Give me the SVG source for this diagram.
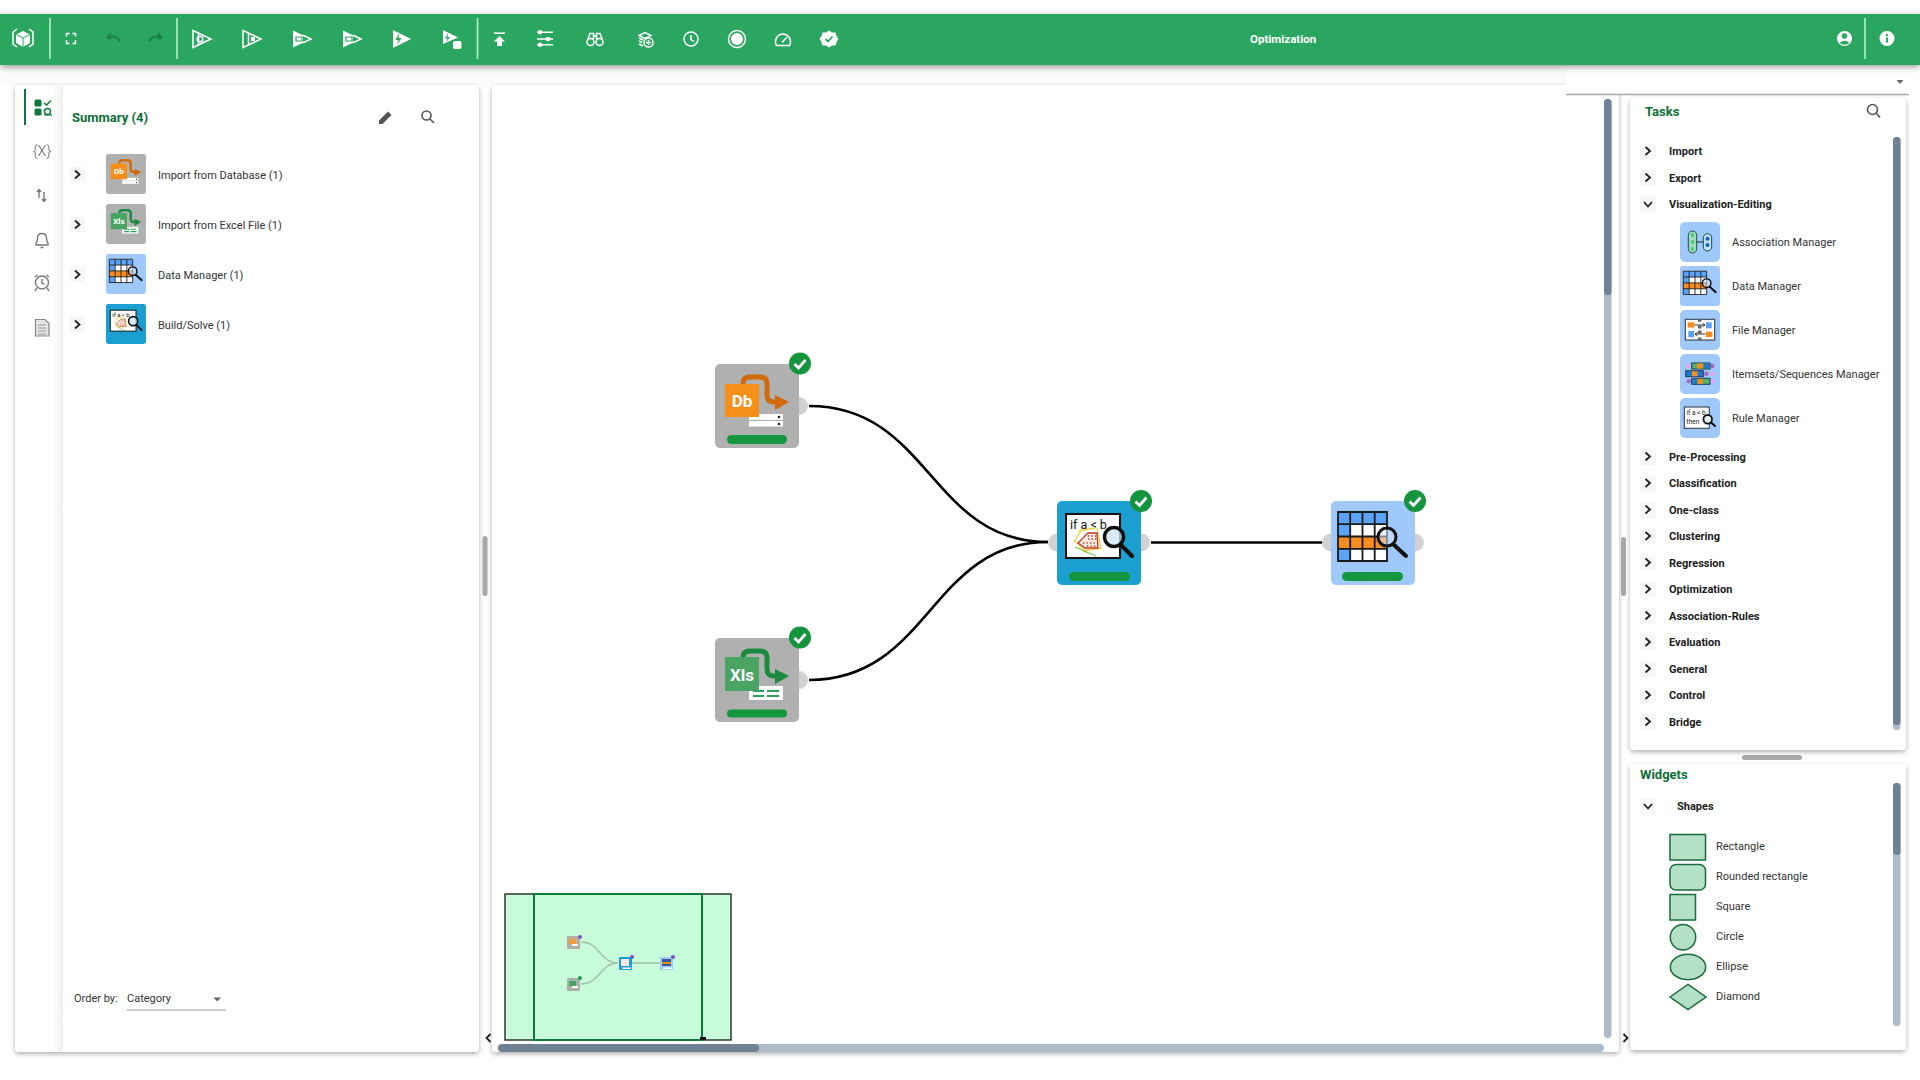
<svg xmlns="http://www.w3.org/2000/svg" xmlns:xlink="http://www.w3.org/1999/xlink" width="1920" height="1080" viewBox="0 0 1920 1080">
<style>
text{font-family:Roboto,"Liberation Sans",sans-serif}
.item{font-size:11px;fill:#333}
.head{font-size:11px;font-weight:700;fill:#1c1c1c}
.title{font-size:13px;font-weight:700;fill:#0b6e36}
.chev{fill:none;stroke:#222;stroke-width:1.8}
.chevbg{fill:#f7f7f7}
.tb{fill:none;stroke:#fff;stroke-width:1.5}
.tbf{fill:#fff}
.sep{stroke:#b6f0c9;stroke-width:1.6}
.port{fill:#d2d2d2}
.bar{fill:#15973f}
.ok{fill:#15943e}
.tick{fill:none;stroke:#fff;stroke-width:2.8}
.wire{fill:none;stroke:#000;stroke-width:2.6}
.mw{fill:none;stroke:#9fbfa6;stroke-width:1.3}
.thumb{fill:#6f8295}
.track{fill:#aebcc9}
.shape{fill:#b5e0c8;stroke:#1a6b3c;stroke-width:1.5}
.side{fill:none;stroke:#777;stroke-width:1.4}
.search{fill:none;stroke:#555;stroke-width:1.6}
.panel{fill:#fff;filter:url(#sh)}
</style>
<defs>
<filter id="sh" x="-5%" y="-5%" width="110%" height="110%"><feDropShadow dx="0" dy="2" stdDeviation="2.5" flood-color="#000" flood-opacity=".32"/></filter>
<filter id="shb" x="-2%" y="-20%" width="104%" height="160%"><feDropShadow dx="0" dy="2" stdDeviation="3" flood-color="#000" flood-opacity=".4"/></filter>
<linearGradient id="sg" x1="0" x2="1" y1="0" y2="0"><stop offset="0" stop-color="#fff"/><stop offset="1" stop-color="#eee"/></linearGradient>
<path id="cr" class="chev" d="M-2.5 -4L2 0L-2.500 4"/>
<path id="cd" class="chev" d="M-4 -2L0 2.500L4 -2"/>
<g id="check"><circle r="11" class="ok"/><path class="tick" d="M-5.500 0.500L-1.500 4.500L5.500 -3.500"/></g>
<g id="lens"><circle r="9.500" fill="#cfe7fb" fill-opacity=".75" stroke="#111" stroke-width="3.400"/></g>

<g id="icon-db">
<rect width="84" height="84" rx="5" fill="#b0b0b0"/>
<path d="M28 20V19Q28 13 35 13H45Q52 13 52 20V31Q52 38 59 38H64" fill="none" stroke="#d06a0a" stroke-width="5"/>
<path d="M60 31L74 38L60 46Z" fill="#d06a0a"/>
<rect x="34" y="50" width="34" height="6" fill="#fff"/><rect x="34" y="57" width="34" height="5.500" fill="#fff"/>
<circle cx="64" cy="53" r="1.300" fill="#222"/><circle cx="64" cy="60" r="1.300" fill="#222"/>
<rect x="10" y="20" width="34" height="33" fill="#f68f17"/>
<text x="27" y="43" font-size="17" font-weight="700" fill="#fff" text-anchor="middle">Db</text>
</g>
<g id="icon-xls">
<rect width="84" height="84" rx="5" fill="#b0b0b0"/>
<path d="M28 20V19Q28 13 35 13H45Q52 13 52 20V31Q52 38 59 38H64" fill="none" stroke="#1b8a3f" stroke-width="5"/>
<path d="M60 31L74 38L60 46Z" fill="#1b8a3f"/>
<rect x="34" y="48" width="34" height="14" fill="#fff"/>
<path d="M38 53H49M52 53H64M38 58H49M52 58H64" stroke="#2f9e5a" stroke-width="2.200"/>
<rect x="10" y="19" width="34" height="34" fill="#4aa564"/>
<text x="27" y="43" font-size="17" font-weight="700" fill="#fff" text-anchor="middle">Xls</text>
</g>
<g id="icon-rule">
<rect width="84" height="84" rx="5" fill="#1a9fd0"/>
<rect x="9" y="13" width="54" height="44" fill="#fff" stroke="#111" stroke-width="2"/>
<text x="13" y="27.500" font-size="12.500" fill="#111">if a &lt; b</text>
<path d="M17 41L25 28M22 30L38 27M40 27L44 48M18 40L30 52M26 50L44 47" stroke="#f3d33b" stroke-width="1.300" fill="none"/>
<path d="M21 42L31 32H40L41 47H28Z" fill="#fbeadf" stroke="#c0392b" stroke-width="1.300"/>
<path d="M26 42h13M31 38h9M31 35h9M30 45h10" stroke="#b5342a" stroke-width="1.300" stroke-dasharray="1.300 2.200" fill="none"/>
<path d="M18 46L39 55" stroke="#6cc24a" stroke-width="1.200"/>
<path d="M63 43L75 55" stroke="#111" stroke-width="4" stroke-linecap="round"/>
<use xlink:href="#lens" href="#lens" x="57" y="36"/>
</g>
<g id="icon-grid">
<rect width="84" height="84" rx="5" fill="#9fc9fb"/>
<rect x="7" y="11" width="49" height="49" fill="#fff"/>
<path d="M7 11H56V23H19V60H7Z" fill="#5ba3f5"/>
<rect x="7" y="35.500" width="49" height="12.300" fill="#f68b1f"/>
<path d="M7 11H56V60H7ZM19.200 11V60M31.500 11V60M43.700 11V60M7 23.200H56M7 35.500H56M7 47.800H56" fill="none" stroke="#1a1a1a" stroke-width="1.800"/>
<path d="M62 43L75 55" stroke="#111" stroke-width="4" stroke-linecap="round"/>
<circle cx="56" cy="36" r="9" fill="#d6e8fb" fill-opacity=".55" stroke="#111" stroke-width="3"/>
</g>
</defs>

<rect width="1920" height="1080" fill="#fff"/>
<rect x="0" y="66" width="1566" height="19" fill="#fbfbfb"/>

<!-- left panel -->
<g id="summary-panel">
<rect class="panel" x="15" y="85" width="464" height="967" rx="4"/>
<rect x="52" y="86" width="11" height="965" fill="url(#sg)"/>
<rect x="24" y="89" width="2" height="36" fill="#0b7a3a"/>
<g id="side-icons">
<rect x="34.500" y="99.500" width="7" height="7" rx="1.500" fill="#0b7a3a"/><rect x="34.500" y="108.500" width="7" height="7" rx="1.500" fill="#0b7a3a"/>
<path d="M44 103L46.500 105L51 100.500" fill="none" stroke="#0b7a3a" stroke-width="1.500"/>
<circle cx="47.500" cy="111.500" r="3" fill="none" stroke="#0b7a3a" stroke-width="1.500"/><path d="M44 115H52" stroke="#0b7a3a" stroke-width="1.200"/>
<text x="42" y="156" font-size="14.500" font-weight="300" fill="#666" text-anchor="middle">{X}</text>
<path class="side" d="M39 198V190M37 192L39 189.500L41 192M44 192V201M42 199L44 201.500L46 199"/>
<path class="side" d="M36 245V243Q37.500 241 37.500 238Q37.500 233.500 42 233.500Q46.500 233.500 46.500 238Q46.500 241 48 243V245ZM40.500 247.500H43.500"/>
<circle class="side" cx="42" cy="282.500" r="6.500"/><path class="side" d="M42 279V283L44.500 284.500M35 277L37.500 275M49 277L46.500 275M37 288L35 291M47 288L49 291"/>
<path d="M35.500 319.500H45L49 323.500V336H35.500Z" fill="#e6e6e6" stroke="#888" stroke-width="1.200"/><path d="M38 325H46M38 328H46M38 331H46M38 334H46" stroke="#999" stroke-width="1"/>
</g>
<text class="title" x="72" y="122">Summary (4)</text>
<path d="M379 124V120.500L388 111.500L391.500 115L382.500 124Z" fill="#555"/>
<circle class="search" cx="426.500" cy="115.500" r="4.500"/><path class="search" d="M430 119L434 123"/>
<g id="summary-rows">
<rect class="chevbg" x="70" y="167" width="15" height="15"/><use href="#cr" x="77.500" y="174.500"/>
<rect class="chevbg" x="70" y="217" width="15" height="15"/><use href="#cr" x="77.500" y="224.500"/>
<rect class="chevbg" x="70" y="267" width="15" height="15"/><use href="#cr" x="77.500" y="274.500"/>
<rect class="chevbg" x="70" y="317" width="15" height="15"/><use href="#cr" x="77.500" y="324.500"/>
<use href="#icon-db" transform="translate(106 154) scale(.476)"/>
<use href="#icon-xls" transform="translate(106 204) scale(.476)"/>
<use href="#icon-grid" transform="translate(106 254) scale(.476)"/>
<use href="#icon-rule" transform="translate(106 304) scale(.476)"/>
<text class="item" x="158" y="179">Import from Database (1)</text>
<text class="item" x="158" y="229">Import from Excel File (1)</text>
<text class="item" x="158" y="279">Data Manager (1)</text>
<text class="item" x="158" y="329">Build/Solve (1)</text>
</g>
<text class="item" x="74" y="1002">Order by:</text>
<text class="item" x="127" y="1002">Category</text>
<path d="M213.500 997.500H221L217.200 1001.500Z" fill="#666"/>
<path d="M127 1010H226" stroke="#999" stroke-width="1"/>
</g>

<!-- canvas -->
<g id="canvas-panel">
<rect class="panel" x="492" y="85" width="1127" height="967" rx="4"/>
<rect x="1604" y="99" width="7.500" height="939" rx="3.500" class="track"/>
<rect x="1604" y="99" width="7.500" height="196" rx="3.500" class="thumb"/>
<rect x="498" y="1044" width="1106" height="8" rx="4" class="track"/>
<rect x="498" y="1044" width="261" height="8" rx="4" class="thumb"/>
<rect x="482.500" y="536" width="5" height="60" rx="2.500" fill="#a8a8a8"/>
<rect x="1621" y="537" width="5" height="59" rx="2.500" fill="#a8a8a8"/>
<path class="chev" d="M490.500 1034L486.500 1038L490.500 1042"/>
<path class="chev" d="M1623.500 1034L1627.500 1038L1623.500 1042"/>
</g>

<!-- connectors -->
<g id="connectors">
<path class="wire" d="M809 406C930 406 930 542 1048 542"/>
<path class="wire" d="M809 680C930 680 930 542 1048 542"/>
<path class="wire" d="M1151 542.500H1322"/>
</g>

<!-- nodes -->
<g id="node-import-db">
<circle class="port" cx="799" cy="406" r="9"/>
<use href="#icon-db" x="715" y="364"/>
<rect class="bar" x="727" y="435" width="60" height="9" rx="4.500"/>
<use href="#check" x="800" y="363.500"/>
</g>
<g id="node-import-excel">
<circle class="port" cx="799" cy="680" r="9"/>
<use href="#icon-xls" x="715" y="638"/>
<rect class="bar" x="727" y="709.500" width="60" height="8" rx="4"/>
<use href="#check" x="800" y="637.500"/>
</g>
<g id="node-build-solve">
<circle class="port" cx="1057" cy="542.500" r="9"/><circle class="port" cx="1141" cy="542.500" r="9"/>
<use href="#icon-rule" x="1057" y="501"/>
<rect class="bar" x="1069" y="572" width="61" height="9" rx="4.500"/>
<use href="#check" x="1141" y="501"/>
</g>
<g id="node-data-manager">
<circle class="port" cx="1331" cy="542.500" r="9"/><circle class="port" cx="1415" cy="542.500" r="9"/>
<use href="#icon-grid" x="1331" y="501"/>
<rect class="bar" x="1342" y="572" width="61" height="9" rx="4.500"/>
<use href="#check" x="1415" y="501"/>
</g>

<!-- minimap -->
<g id="minimap">
<rect x="505" y="894" width="226" height="146" fill="#c8fbd9" stroke="#2a3a30" stroke-width="1.500"/>
<rect x="534" y="894" width="168" height="146" fill="none" stroke="#0b7a3a" stroke-width="2"/>
<rect x="700" y="1037" width="6" height="3" fill="#111"/>
<path class="mw" d="M581 942C600 942 600 963 618 963M581 984C600 984 600 963 618 963M632 963H660"/>
<rect x="567" y="936" width="13" height="13" rx="1" fill="#b5aca2"/><rect x="569" y="939" width="7" height="5" fill="#f09a3c"/><rect x="572" y="944" width="6" height="2" fill="#fff"/>
<circle cx="580" cy="937" r="2" fill="#7a55b8"/>
<rect x="567" y="978" width="13" height="13" rx="1" fill="#a8b3a8"/><rect x="569" y="981" width="7" height="5" fill="#4aa564"/><rect x="572" y="986" width="6" height="2" fill="#fff"/>
<circle cx="580" cy="978" r="2" fill="#1f9b4a"/>
<rect x="619" y="957" width="13" height="13" rx="1" fill="#1a9fd0"/><rect x="621" y="959" width="8" height="7" fill="#fbe4dc"/><rect x="622" y="967.500" width="9" height="1.500" fill="#fff"/>
<circle cx="632" cy="957" r="2" fill="#7a55b8"/>
<rect x="660" y="957" width="13" height="13" rx="1" fill="#9fc9fb"/><rect x="662" y="959" width="9" height="7" fill="#3a5a8a"/><rect x="662" y="962" width="9" height="2" fill="#e08a28"/><rect x="663" y="967.500" width="9" height="1.500" fill="#fff"/>
<circle cx="673" cy="957" r="2" fill="#7a55b8"/>
</g>

<!-- top right strip -->
<g id="canvas-selector">
<rect x="1566" y="70" width="343" height="24" fill="#fff"/>
<path d="M1566 94.500H1909" stroke="#aaa" stroke-width="1.500"/>
<path d="M1896.500 80H1903.500L1900 84Z" fill="#666"/>
</g>

<!-- tasks panel -->
<g id="tasks-panel">
<rect class="panel" x="1630" y="98" width="276" height="652" rx="4"/>
<text class="title" x="1645" y="116">Tasks</text>
<circle class="search" cx="1872.500" cy="109.500" r="5"/><path class="search" d="M1876 113L1880 117.500"/>
<rect x="1893" y="137" width="7.500" height="593" rx="3.500" class="track"/>
<rect x="1893" y="137" width="7.500" height="588" rx="3.500" class="thumb"/>
<g fill="#f7f7f7">
<rect x="1640" y="143.500" width="16" height="16"/><rect x="1640" y="170" width="16" height="16"/><rect x="1640" y="196.500" width="16" height="16"/>
<rect x="1640" y="449" width="16" height="16"/><rect x="1640" y="475.500" width="16" height="16"/><rect x="1640" y="502" width="16" height="16"/><rect x="1640" y="528.500" width="16" height="16"/><rect x="1640" y="555" width="16" height="16"/><rect x="1640" y="581.500" width="16" height="16"/><rect x="1640" y="608" width="16" height="16"/><rect x="1640" y="634.500" width="16" height="16"/><rect x="1640" y="661" width="16" height="16"/><rect x="1640" y="687.500" width="16" height="16"/><rect x="1640" y="714" width="16" height="16"/>
</g>
<use href="#cr" x="1648" y="151"/><use href="#cr" x="1648" y="177.500"/><use href="#cd" x="1648" y="204"/>
<use href="#cr" x="1648" y="456.500"/><use href="#cr" x="1648" y="483"/><use href="#cr" x="1648" y="509.500"/><use href="#cr" x="1648" y="536"/><use href="#cr" x="1648" y="562.500"/><use href="#cr" x="1648" y="589"/><use href="#cr" x="1648" y="615.500"/><use href="#cr" x="1648" y="642"/><use href="#cr" x="1648" y="668.500"/><use href="#cr" x="1648" y="695"/><use href="#cr" x="1648" y="721.500"/>
<text class="head" x="1669" y="155">Import</text>
<text class="head" x="1669" y="182">Export</text>
<text class="head" x="1669" y="208">Visualization-Editing</text>
<text class="head" x="1669" y="461">Pre-Processing</text>
<text class="head" x="1669" y="487">Classification</text>
<text class="head" x="1669" y="514">One-class</text>
<text class="head" x="1669" y="540">Clustering</text>
<text class="head" x="1669" y="567">Regression</text>
<text class="head" x="1669" y="593">Optimization</text>
<text class="head" x="1669" y="620">Association-Rules</text>
<text class="head" x="1669" y="646">Evaluation</text>
<text class="head" x="1669" y="673">General</text>
<text class="head" x="1669" y="699">Control</text>
<text class="head" x="1669" y="726">Bridge</text>
<g transform="translate(1680 222)">
<rect width="40" height="40" rx="5" fill="#9fc9fb"/>
<rect x="8.300" y="9" width="8.400" height="22" rx="4.200" fill="#9fdcc0" stroke="#1d4c4a" stroke-width="1"/>
<rect x="23.300" y="11.700" width="8.400" height="17.300" rx="4.200" fill="#bfe0fb" stroke="#1d4c4a" stroke-width="1"/>
<path d="M16.700 20H23.300" stroke="#1d4c4a" stroke-width="1.200"/>
<circle cx="12.500" cy="13" r="1.900" fill="#4fc87a"/><circle cx="12.500" cy="20" r="1.900" fill="#4fc87a"/><circle cx="12.500" cy="27" r="1.900" fill="#4fc87a"/>
<circle cx="27.500" cy="16.700" r="2" fill="#1565c0"/><circle cx="27.500" cy="23" r="2" fill="#1565c0"/>
</g>
<use href="#icon-grid" transform="translate(1680 266) scale(.476)"/>
<g transform="translate(1680 310)">
<rect width="40" height="40" rx="5" fill="#9fc9fb"/>
<rect x="5.300" y="9.300" width="29.400" height="20.700" fill="#fff" stroke="#23323f" stroke-width="1"/>
<rect x="7.700" y="12.300" width="6.700" height="5.300" fill="#f68b1f"/><rect x="26" y="12.300" width="5.700" height="6" fill="#5ba3f5"/>
<rect x="8.300" y="21" width="5.700" height="6.300" fill="#5ba3f5"/><rect x="25.700" y="21.700" width="6.700" height="5.300" fill="#f68b1f"/>
<rect x="18" y="8.800" width="3.500" height="3" fill="#666"/><rect x="18" y="15.500" width="3.500" height="3" fill="#666"/><rect x="18" y="20.500" width="3.500" height="3" fill="#666"/><rect x="18" y="27.500" width="3.500" height="3" fill="#666"/>
<path d="M14.500 15H25M22.500 13.200L25 15L22.500 16.800M25 24H15M17.500 22.200L15 24L17.500 25.800" fill="none" stroke="#222" stroke-width=".9"/>
</g>
<g transform="translate(1680 354)">
<rect width="40" height="40" rx="5" fill="#9fc9fb"/>
<circle cx="8.300" cy="12" r="2.300" fill="#e9a4ea"/><circle cx="32.300" cy="12" r="2.300" fill="#a06cc0"/>
<circle cx="26.300" cy="19.700" r="2.300" fill="#a06cc0"/><circle cx="32.300" cy="19.700" r="2.300" fill="#e9a4ea"/>
<circle cx="8.700" cy="27.300" r="2.300" fill="#a06cc0"/><circle cx="32.300" cy="27.300" r="2.300" fill="#e9a4ea"/>
<rect x="11.700" y="9" width="18.300" height="6" fill="#4fb56e" stroke="#1d3b5a"/><rect x="17" y="9.500" width="6" height="5" fill="#f68b1f"/><rect x="23.500" y="9.500" width="6" height="5" fill="#1f78c8"/>
<rect x="5.700" y="16.700" width="17.600" height="6" fill="#1f78c8" stroke="#1d3b5a"/><rect x="12" y="17.200" width="5.500" height="5" fill="#f68b1f"/>
<rect x="11.700" y="24.300" width="18.300" height="6" fill="#4fb56e" stroke="#1d3b5a"/><rect x="12.200" y="24.800" width="5" height="5" fill="#1f78c8"/><rect x="17.500" y="24.800" width="5.500" height="5" fill="#f68b1f"/>
</g>
<g transform="translate(1680 398)">
<rect width="40" height="40" rx="5" fill="#9fc9fb"/>
<rect x="4.300" y="9" width="25" height="21.300" fill="#fff" stroke="#23323f" stroke-width="1"/>
<text x="6.500" y="17" font-size="6.500" fill="#222">if a &lt; b</text>
<text x="6.500" y="26" font-size="6.500" fill="#222">then</text>
<path d="M30.500 24L35 28" stroke="#111" stroke-width="2" stroke-linecap="round"/>
<circle cx="27.700" cy="21.300" r="4.300" fill="#e7f2fc" stroke="#111" stroke-width="1.800"/>
</g>
<text class="item" x="1732" y="246">Association Manager</text>
<text class="item" x="1732" y="290">Data Manager</text>
<text class="item" x="1732" y="334">File Manager</text>
<text class="item" x="1732" y="378">Itemsets/Sequences Manager</text>
<text class="item" x="1732" y="422">Rule Manager</text>
</g>
<rect id="h-splitter" x="1742" y="755" width="60" height="5" rx="2.500" fill="#a8a8a8"/>

<!-- widgets panel -->
<g id="widgets-panel">
<rect class="panel" x="1630" y="764" width="276" height="286" rx="4"/>
<text class="title" x="1640" y="779">Widgets</text>
<rect x="1640" y="798" width="16" height="16" fill="#f7f7f7"/><use href="#cd" x="1648" y="806"/>
<text class="head" x="1677" y="810">Shapes</text>
<rect x="1893" y="783" width="7.500" height="243" rx="3.500" class="track"/>
<rect x="1893" y="783" width="7.500" height="72" rx="3.500" class="thumb"/>
<rect class="shape" x="1670" y="834.500" width="35.500" height="25.500"/>
<rect class="shape" x="1670" y="864.500" width="35.500" height="25.500" rx="6"/>
<rect class="shape" x="1670" y="894.500" width="25.500" height="25.500"/>
<circle class="shape" cx="1683" cy="937.300" r="12.700"/>
<ellipse class="shape" cx="1688" cy="967" rx="17.700" ry="12.700"/>
<path class="shape" d="M1670 997L1688 984.500L1706 997L1688 1009.500Z"/>
<text class="item" x="1716" y="850">Rectangle</text>
<text class="item" x="1716" y="880">Rounded rectangle</text>
<text class="item" x="1716" y="910">Square</text>
<text class="item" x="1716" y="940">Circle</text>
<text class="item" x="1716" y="970">Ellipse</text>
<text class="item" x="1716" y="1000">Diamond</text>
</g>

<!-- toolbar -->
<g id="toolbar">
<rect x="0" y="14" width="1920" height="51" fill="#2ba661" filter="url(#shb)"/>
<g id="tb-logo"><path d="M23 31L30 34.500V43L23 47L16 43V34.500Z" fill="#fff"/><path d="M16 34.500L23 38L30 34.500M23 38V47" stroke="#2ba661" stroke-width="1" fill="none"/><path d="M17 29L13 32V44L17 47M29 29L33 32V44L29 47" class="tb" stroke-width="1.200"/></g>
<path class="sep" d="M50 18V59M177 18V59M477.500 18V59M1865 18V59"/>
<path class="tb" d="M66.500 36.500V33.500H69.500M72.500 33.500H75.500V36.500M75.500 40V43.500H72.500M69.500 43.500H66.500V40"/>
<path d="M107 37.500L111 33.500M107 37.500L111.500 38.500M107.500 37.500Q116 34.500 120 41.500" fill="none" stroke="#1f7f4a" stroke-width="2"/>
<path d="M162 37.500L158 33.500M162 37.500L157.500 38.500M161.500 37.500Q153 34.500 149 41.500" fill="none" stroke="#1f7f4a" stroke-width="2"/>
<g id="tb-run1"><path class="tb" d="M193 30.500L211 39L193 47.500ZM198.500 33V45"/><circle class="tb" cx="200" cy="39" r="2.800"/></g>
<g id="tb-run2"><path class="tb" d="M243 30.500L261 39L243 47.500ZM248.500 33V45"/><rect class="tbf" x="251" y="37" width="4" height="4"/></g>
<g id="tb-run3"><path class="tbf" d="M293 30.500L303 35.200V42.800L293 47.500Z"/><path class="tb" d="M303 35.200L311 39L303 42.800"/><path d="M296 37H302V41H296Z" fill="none" stroke="#2ba661" stroke-width="1.200"/></g>
<g id="tb-run4"><path class="tbf" d="M343 30.500L353 35.200V42.800L343 47.500Z"/><path class="tb" d="M353 35.200L361 39L353 42.800"/><path d="M346 37H352V41H346Z" fill="none" stroke="#2ba661" stroke-width="1.200"/></g>
<g id="tb-run5"><path class="tbf" d="M393 30L411 39L393 48Z"/><path d="M399 33L395.500 40H398.500L397 45L401.500 38H398.500Z" fill="#2ba661"/></g>
<g id="tb-run6"><path class="tbf" d="M443 30L458 37.500L443 44Z"/><path d="M448 33L445 38.500H447.500L446.500 42L450 37H447.500Z" fill="#2ba661"/><rect class="tbf" x="453" y="41" width="8.500" height="8" rx="2"/></g>
<path d="M494 33.200H505" stroke="#fff" stroke-width="1.600"/><path class="tbf" d="M499.500 36L505 41.500H502V46H497V41.500H494Z"/>
<path class="tb" d="M537 32.300H553M537 39H553M537 44.700H553"/><circle class="tbf" cx="540" cy="32.300" r="2.300"/><circle class="tbf" cx="548" cy="39" r="2.300"/><circle class="tbf" cx="540" cy="44.700" r="2.300"/>
<g id="tb-binoc"><circle class="tb" cx="590.500" cy="42" r="3.500"/><circle class="tb" cx="599.500" cy="42" r="3.500"/><path class="tb" d="M587.500 40L590 33.500H593.500V39M602.500 40L600 33.500H596.500V39M593.500 36H596.500"/></g>
<g id="tb-layers"><path class="tb" stroke-width="1.200" d="M639 35.500L645 32.500L651 35.500L645 38.500ZM639 38L643 40M639 41L642 42.500M639 44L643 46"/><circle class="tb" stroke-width="1.200" cx="648.500" cy="42.500" r="4.500"/><path class="tb" stroke-width="1.200" d="M646 42.500H651M648.500 40V45"/></g>
<circle class="tb" cx="691" cy="39" r="7"/><path class="tb" d="M691 35V39.500L694 41.500"/>
<circle class="tb" cx="737" cy="39" r="8.500"/><circle class="tbf" cx="737" cy="39" r="6"/>
<path class="tb" d="M776.500 45.500Q775 43 775.500 41Q777 34 783 34Q789 34 790.500 41Q791 43 789.500 45.500ZM782 42.500L787 37"/>
<g id="tb-verified"><path class="tbf" d="M829 30.500L832 32.500L835.500 32.500L836.500 36L838.500 39L836.500 42L835.500 45.500L832 45.500L829 47.500L826 45.500L822.500 45.500L821.500 42L819.500 39L821.500 36L822.500 32.500L826 32.500Z"/><path d="M825.500 39L828 41.500L832.500 36.500" fill="none" stroke="#2ba661" stroke-width="1.800"/></g>
<text x="1250" y="42.500" font-size="11.500" font-weight="700" fill="#fff">Optimization</text>
<g id="tb-user"><circle class="tbf" cx="1844.500" cy="38.500" r="7.500"/><circle cx="1844.500" cy="36" r="2.800" fill="#2ba661"/><path d="M1839.500 43Q1844.500 38.500 1849.500 43Q1844.500 46.500 1839.500 43Z" fill="#2ba661"/></g>
<g id="tb-info"><circle class="tbf" cx="1887" cy="38.500" r="7.500"/><rect x="1886" y="37.500" width="2" height="5" fill="#2ba661"/><circle cx="1887" cy="35" r="1.200" fill="#2ba661"/></g>
</g>
</svg>
